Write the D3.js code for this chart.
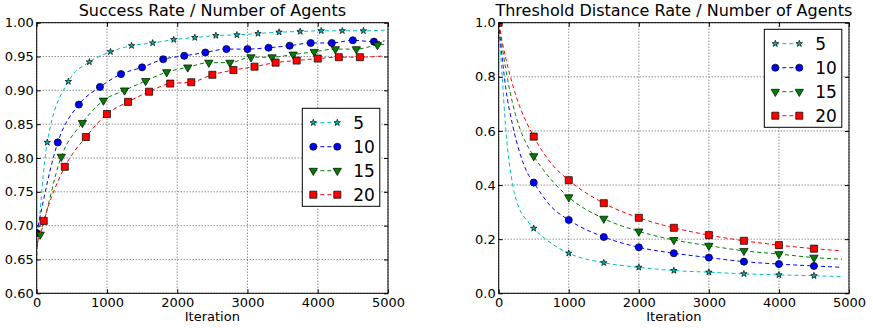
<!DOCTYPE html>
<html>
<head>
<meta charset="utf-8">
<script src="https://cdn.jsdelivr.net/npm/d3@7"></script>
<style>
  body { margin: 0; background: #fff; }
  text { font-family: "DejaVu Sans", sans-serif; fill: #000; }
</style>
</head>
<body>
<svg id="chart" width="873" height="328"></svg>
<script>
"use strict";

// ---- data ----
var agentLabels = ["5", "10", "15", "20"];
var iterTicks = [0, 1000, 2000, 3000, 4000, 5000];
var successTicks = [0.60, 0.65, 0.70, 0.75, 0.80, 0.85, 0.90, 0.95, 1.00];
var distTicks = [0.0, 0.2, 0.4, 0.6, 0.8, 1.0];

// success rate, markers
var successIter5  = [150, 450, 750, 1050, 1350, 1650, 1950, 2250, 2550, 2850, 3150, 3450, 3750, 4050, 4350, 4650];
var successRate5  = [0.823, 0.913, 0.942, 0.957, 0.966, 0.970, 0.975, 0.978, 0.981, 0.982, 0.984, 0.986, 0.987, 0.988, 0.988, 0.988];
var successIter10 = [0, 300, 600, 900, 1200, 1500, 1800, 2100, 2400, 2700, 3000, 3300, 3600, 3900, 4200, 4500, 4800];
var successRate10 = [0.689, 0.823, 0.879, 0.905, 0.924, 0.934, 0.946, 0.951, 0.956, 0.961, 0.961, 0.963, 0.966, 0.970, 0.970, 0.974, 0.972];
var successIter15 = [50, 350, 650, 950, 1250, 1550, 1850, 2150, 2450, 2750, 3050, 3350, 3650, 3950, 4250, 4550, 4850];
var successRate15 = [0.687, 0.802, 0.852, 0.885, 0.900, 0.914, 0.927, 0.934, 0.941, 0.941, 0.949, 0.949, 0.953, 0.957, 0.961, 0.961, 0.967];
var successIter20 = [100, 400, 700, 1000, 1300, 1600, 1900, 2200, 2500, 2800, 3100, 3400, 3700, 4000, 4300, 4600];
var successRate20 = [0.707, 0.787, 0.831, 0.865, 0.883, 0.898, 0.910, 0.912, 0.923, 0.930, 0.935, 0.941, 0.944, 0.947, 0.949, 0.949];
// where the dashed lines begin (iteration 0) and end (iteration 4950)
var successLineStart = [0.655, 0.689, 0.672, 0.668];
var successLineEnd   = [0.989, 0.973, 0.968, 0.951];

// threshold distance rate, markers
var distIter = [0, 500, 1000, 1500, 2000, 2500, 3000, 3500, 4000, 4500];
var dist5  = [1.0, 0.240, 0.148, 0.113, 0.096, 0.084, 0.078, 0.072, 0.068, 0.065];
var dist10 = [1.0, 0.409, 0.271, 0.208, 0.170, 0.148, 0.132, 0.117, 0.108, 0.101];
var dist15 = [1.0, 0.507, 0.355, 0.276, 0.229, 0.197, 0.176, 0.157, 0.145, 0.132];
var dist20 = [1.0, 0.579, 0.418, 0.333, 0.279, 0.242, 0.215, 0.194, 0.178, 0.165];
// threshold distance rate, line
var distLineIter = [0, 50, 100, 200, 300, 400, 500, 750, 1000, 1500, 2000, 2500, 3000, 3500, 4000, 4500, 4900];
var distLine5  = [1.0, 0.80, 0.61, 0.40, 0.31, 0.27, 0.240, 0.185, 0.148, 0.113, 0.096, 0.084, 0.078, 0.072, 0.068, 0.065, 0.062];
var distLine10 = [1.0, 0.87, 0.76, 0.62, 0.52, 0.45, 0.409, 0.320, 0.271, 0.208, 0.170, 0.148, 0.132, 0.117, 0.108, 0.101, 0.096];
var distLine15 = [1.0, 0.91, 0.83, 0.70, 0.61, 0.55, 0.507, 0.420, 0.355, 0.276, 0.229, 0.197, 0.176, 0.157, 0.145, 0.132, 0.126];
var distLine20 = [1.0, 0.93, 0.87, 0.77, 0.69, 0.63, 0.579, 0.480, 0.418, 0.333, 0.279, 0.242, 0.215, 0.194, 0.178, 0.165, 0.157];

// ---- styling ----
var colors = ["#00bfbf", "#0000ff", "#008000", "#ff0000"];
var symbols = [
  {type: d3.symbolStar, size: 13, rot: 0},
  {type: d3.symbolCircle, size: 40, rot: 0},
  {type: d3.symbolTriangle, size: 30, rot: 180},
  {type: d3.symbolSquare, size: 50, rot: 0}
];

var svg = d3.select("#chart");
var plotTop = 22.7, plotBottom = 293.3;

function zip(xs, ys) {
  return xs.map(function(v, i) { return [v, ys[i]]; });
}

function drawPanel(opt) {
  var g = svg.append("g"),
    x = d3.scaleLinear().domain([0, 5000]).range([opt.left, opt.right]),
    y = d3.scaleLinear().domain(opt.yDomain).range([plotBottom, plotTop]),
    w = opt.right - opt.left,
    h = plotBottom - plotTop;

  g.append("clipPath").attr("id", opt.id + "-clip")
    .append("rect").attr("x", opt.left).attr("y", plotTop).attr("width", w).attr("height", h);

  // grid
  var grid = g.append("g").attr("stroke", "#333").attr("stroke-width", 0.8).attr("stroke-dasharray", "1,2");
  iterTicks.forEach(function(t) {
    grid.append("line").attr("x1", x(t)).attr("x2", x(t)).attr("y1", plotTop).attr("y2", plotBottom);
  });
  opt.yTicks.forEach(function(t) {
    grid.append("line").attr("x1", opt.left).attr("x2", opt.right).attr("y1", y(t)).attr("y2", y(t));
  });

  // series
  var plot = g.append("g").attr("clip-path", "url(#" + opt.id + "-clip)");
  var line = d3.line().x(function(d) { return x(d[0]); }).y(function(d) { return y(d[1]); })
    .curve(d3.curveMonotoneX);

  opt.series.forEach(function(s, i) {
    plot.append("path")
      .datum(s.line)
      .attr("fill", "none")
      .attr("stroke", colors[i])
      .attr("stroke-width", 1)
      .attr("stroke-dasharray", "4,3")
      .attr("d", line);
    var sym = d3.symbol().type(symbols[i].type).size(symbols[i].size);
    plot.selectAll(null)
      .data(s.marks)
      .enter().append("path")
      .attr("d", sym)
      .attr("transform", function(d) { return "translate(" + x(d[0]) + "," + y(d[1]) + ") rotate(" + symbols[i].rot + ")"; })
      .attr("fill", colors[i])
      .attr("stroke", "#000")
      .attr("stroke-width", 0.7);
  });

  // axes, ticks pointing inward
  g.append("g").attr("transform", "translate(0," + plotBottom + ")")
    .call(d3.axisBottom(x).tickValues(iterTicks).tickSizeInner(-4).tickSizeOuter(0).tickPadding(4).tickFormat(d3.format("d")))
    .call(function(a) { a.select(".domain").remove(); a.selectAll("text").attr("font-size", 13).attr("font-family", "DejaVu Sans"); });
  g.append("g").attr("transform", "translate(0," + plotTop + ")")
    .call(d3.axisTop(x).tickValues(iterTicks).tickSizeInner(-4).tickSizeOuter(0).tickFormat(""))
    .call(function(a) { a.select(".domain").remove(); });
  g.append("g").attr("transform", "translate(" + opt.left + ",0)")
    .call(d3.axisLeft(y).tickValues(opt.yTicks).tickSizeInner(-4).tickSizeOuter(0).tickPadding(3).tickFormat(d3.format(opt.yFormat)))
    .call(function(a) { a.select(".domain").remove(); a.selectAll("text").attr("font-size", 13).attr("font-family", "DejaVu Sans"); });
  g.append("g").attr("transform", "translate(" + opt.right + ",0)")
    .call(d3.axisRight(y).tickValues(opt.yTicks).tickSizeInner(-4).tickSizeOuter(0).tickFormat(""))
    .call(function(a) { a.select(".domain").remove(); });

  g.append("rect").attr("x", opt.left).attr("y", plotTop).attr("width", w).attr("height", h)
    .attr("fill", "none").attr("stroke", "#000").attr("stroke-width", 1);

  // legend
  var lg = g.append("g").attr("transform", "translate(" + opt.legend[0] + "," + opt.legend[1] + ")");
  lg.append("rect").attr("width", 77.5).attr("height", 98)
    .attr("fill", "#fff").attr("stroke", "#000").attr("stroke-width", 1);
  agentLabels.forEach(function(lbl, i) {
    var ry = 14.4 + 24 * i;
    lg.append("line").attr("x1", 11).attr("x2", 35).attr("y1", ry).attr("y2", ry)
      .attr("stroke", colors[i]).attr("stroke-width", 1).attr("stroke-dasharray", "4,3");
    var sym = d3.symbol().type(symbols[i].type).size(symbols[i].size);
    [11, 35].forEach(function(px) {
      lg.append("path").attr("d", sym)
        .attr("transform", "translate(" + px + "," + ry + ") rotate(" + symbols[i].rot + ")")
        .attr("fill", colors[i]).attr("stroke", "#000").attr("stroke-width", 0.7);
    });
    lg.append("text").attr("x", 51).attr("y", ry).attr("dy", "0.36em")
      .attr("font-size", 17).text(lbl);
  });

  // title and x label
  g.append("text").attr("x", (opt.left + opt.right) / 2).attr("y", 16)
    .attr("text-anchor", "middle").attr("font-size", 16).text(opt.title);
  g.append("text").attr("x", (opt.left + opt.right) / 2).attr("y", 320.5)
    .attr("text-anchor", "middle").attr("font-size", 13).text("Iteration");
}

function successSeries(iters, rates, i) {
  var marks = zip(iters, rates);
  var pts = marks.slice();
  if (iters[0] > 0) pts.unshift([0, successLineStart[i]]);
  pts.push([4950, successLineEnd[i]]);
  return {marks: marks, line: pts};
}

drawPanel({
  id: "success",
  left: 36.7, right: 388,
  yDomain: [0.6, 1.0],
  yTicks: successTicks,
  yFormat: ".2f",
  legend: [302.3, 108.3],
  title: "Success Rate / Number of Agents",
  series: [
    successSeries(successIter5, successRate5, 0),
    successSeries(successIter10, successRate10, 1),
    successSeries(successIter15, successRate15, 2),
    successSeries(successIter20, successRate20, 3)
  ]
});

drawPanel({
  id: "dist",
  left: 498.7, right: 849,
  yDomain: [0, 1.0],
  yTicks: distTicks,
  yFormat: ".1f",
  legend: [764.3, 29.3],
  title: "Threshold Distance Rate / Number of Agents",
  series: [
    {marks: zip(distIter, dist5),  line: zip(distLineIter, distLine5)},
    {marks: zip(distIter, dist10), line: zip(distLineIter, distLine10)},
    {marks: zip(distIter, dist15), line: zip(distLineIter, distLine15)},
    {marks: zip(distIter, dist20), line: zip(distLineIter, distLine20)}
  ]
});
</script>
</body>
</html>
